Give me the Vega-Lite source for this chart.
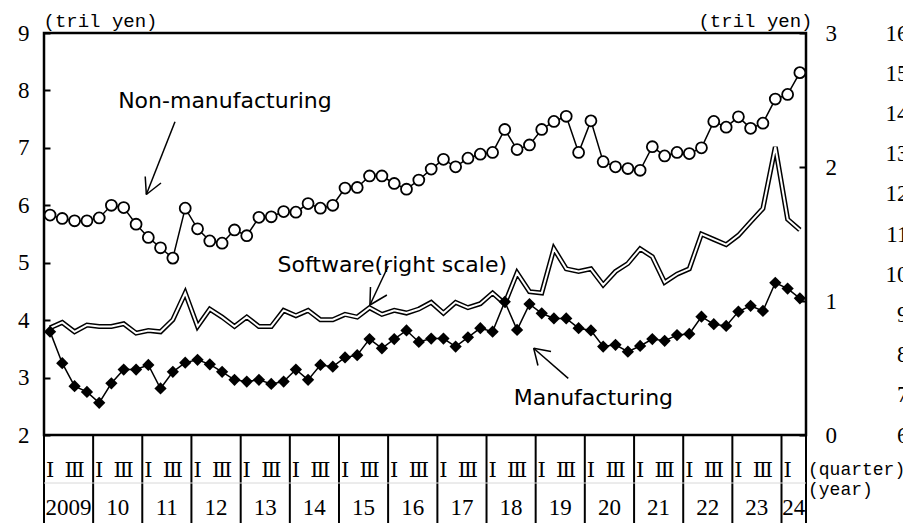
{
  "$schema": "https://vega.github.io/schema/vega-lite/v6.json",
  "width": 762,
  "height": 402,
  "autosize": {"type": "none"},
  "padding": {"left": 44, "top": 33, "right": 97, "bottom": 88},
  "background": "white",
  "config": {
    "view": {"stroke": "black", "strokeWidth": 2.5},
    "font": "DejaVu Sans",
    "axis": {"labelColor": "black", "titleColor": "black", "tickColor": "black", "grid": false}
  },
  "datasets": {
    "q": [
      {"date": "2009-01-01", "nonmfg": 5.83, "mfg": 3.80, "sw": 0.80},
      {"date": "2009-04-01", "nonmfg": 5.77, "mfg": 3.25, "sw": 0.84},
      {"date": "2009-07-01", "nonmfg": 5.73, "mfg": 2.85, "sw": 0.77},
      {"date": "2009-10-01", "nonmfg": 5.73, "mfg": 2.75, "sw": 0.82},
      {"date": "2010-01-01", "nonmfg": 5.78, "mfg": 2.56, "sw": 0.81},
      {"date": "2010-04-01", "nonmfg": 6.00, "mfg": 2.90, "sw": 0.81},
      {"date": "2010-07-01", "nonmfg": 5.96, "mfg": 3.14, "sw": 0.83},
      {"date": "2010-10-01", "nonmfg": 5.67, "mfg": 3.14, "sw": 0.76},
      {"date": "2011-01-01", "nonmfg": 5.44, "mfg": 3.22, "sw": 0.78},
      {"date": "2011-04-01", "nonmfg": 5.26, "mfg": 2.81, "sw": 0.77},
      {"date": "2011-07-01", "nonmfg": 5.08, "mfg": 3.10, "sw": 0.86},
      {"date": "2011-10-01", "nonmfg": 5.95, "mfg": 3.26, "sw": 1.06},
      {"date": "2012-01-01", "nonmfg": 5.59, "mfg": 3.31, "sw": 0.81},
      {"date": "2012-04-01", "nonmfg": 5.38, "mfg": 3.23, "sw": 0.94},
      {"date": "2012-07-01", "nonmfg": 5.34, "mfg": 3.10, "sw": 0.88},
      {"date": "2012-10-01", "nonmfg": 5.57, "mfg": 2.96, "sw": 0.81},
      {"date": "2013-01-01", "nonmfg": 5.47, "mfg": 2.93, "sw": 0.88},
      {"date": "2013-04-01", "nonmfg": 5.79, "mfg": 2.96, "sw": 0.81},
      {"date": "2013-07-01", "nonmfg": 5.80, "mfg": 2.89, "sw": 0.81},
      {"date": "2013-10-01", "nonmfg": 5.89, "mfg": 2.93, "sw": 0.93},
      {"date": "2014-01-01", "nonmfg": 5.88, "mfg": 3.14, "sw": 0.89},
      {"date": "2014-04-01", "nonmfg": 6.03, "mfg": 2.96, "sw": 0.93},
      {"date": "2014-07-01", "nonmfg": 5.95, "mfg": 3.22, "sw": 0.86},
      {"date": "2014-10-01", "nonmfg": 6.00, "mfg": 3.19, "sw": 0.86},
      {"date": "2015-01-01", "nonmfg": 6.30, "mfg": 3.35, "sw": 0.90},
      {"date": "2015-04-01", "nonmfg": 6.31, "mfg": 3.39, "sw": 0.88},
      {"date": "2015-07-01", "nonmfg": 6.51, "mfg": 3.67, "sw": 0.95},
      {"date": "2015-10-01", "nonmfg": 6.51, "mfg": 3.51, "sw": 0.90},
      {"date": "2016-01-01", "nonmfg": 6.38, "mfg": 3.67, "sw": 0.93},
      {"date": "2016-04-01", "nonmfg": 6.28, "mfg": 3.82, "sw": 0.91},
      {"date": "2016-07-01", "nonmfg": 6.44, "mfg": 3.62, "sw": 0.94},
      {"date": "2016-10-01", "nonmfg": 6.63, "mfg": 3.68, "sw": 0.99},
      {"date": "2017-01-01", "nonmfg": 6.80, "mfg": 3.68, "sw": 0.91},
      {"date": "2017-04-01", "nonmfg": 6.67, "mfg": 3.54, "sw": 0.99},
      {"date": "2017-07-01", "nonmfg": 6.82, "mfg": 3.70, "sw": 0.95},
      {"date": "2017-10-01", "nonmfg": 6.89, "mfg": 3.86, "sw": 0.98},
      {"date": "2018-01-01", "nonmfg": 6.92, "mfg": 3.80, "sw": 1.06},
      {"date": "2018-04-01", "nonmfg": 7.32, "mfg": 4.32, "sw": 0.98},
      {"date": "2018-07-01", "nonmfg": 6.97, "mfg": 3.83, "sw": 1.21},
      {"date": "2018-10-01", "nonmfg": 7.05, "mfg": 4.28, "sw": 1.07},
      {"date": "2019-01-01", "nonmfg": 7.32, "mfg": 4.12, "sw": 1.06},
      {"date": "2019-04-01", "nonmfg": 7.46, "mfg": 4.03, "sw": 1.39},
      {"date": "2019-07-01", "nonmfg": 7.55, "mfg": 4.03, "sw": 1.24},
      {"date": "2019-10-01", "nonmfg": 6.92, "mfg": 3.86, "sw": 1.22},
      {"date": "2020-01-01", "nonmfg": 7.47, "mfg": 3.82, "sw": 1.24},
      {"date": "2020-04-01", "nonmfg": 6.76, "mfg": 3.54, "sw": 1.12},
      {"date": "2020-07-01", "nonmfg": 6.67, "mfg": 3.57, "sw": 1.22},
      {"date": "2020-10-01", "nonmfg": 6.64, "mfg": 3.45, "sw": 1.28},
      {"date": "2021-01-01", "nonmfg": 6.61, "mfg": 3.55, "sw": 1.39},
      {"date": "2021-04-01", "nonmfg": 7.02, "mfg": 3.67, "sw": 1.33},
      {"date": "2021-07-01", "nonmfg": 6.86, "mfg": 3.64, "sw": 1.14},
      {"date": "2021-10-01", "nonmfg": 6.92, "mfg": 3.74, "sw": 1.20},
      {"date": "2022-01-01", "nonmfg": 6.90, "mfg": 3.76, "sw": 1.24},
      {"date": "2022-04-01", "nonmfg": 7.00, "mfg": 4.06, "sw": 1.50},
      {"date": "2022-07-01", "nonmfg": 7.46, "mfg": 3.93, "sw": 1.46},
      {"date": "2022-10-01", "nonmfg": 7.36, "mfg": 3.90, "sw": 1.42},
      {"date": "2023-01-01", "nonmfg": 7.54, "mfg": 4.15, "sw": 1.49},
      {"date": "2023-04-01", "nonmfg": 7.34, "mfg": 4.25, "sw": 1.59},
      {"date": "2023-07-01", "nonmfg": 7.43, "mfg": 4.16, "sw": 1.69},
      {"date": "2023-10-01", "nonmfg": 7.85, "mfg": 4.65, "sw": 2.15},
      {"date": "2024-01-01", "nonmfg": 7.93, "mfg": 4.55, "sw": 1.61},
      {"date": "2024-04-01", "nonmfg": 8.31, "mfg": 4.38, "sw": 1.53}
    ],
    "years": [
      {"date": "2009-01-01"}, {"date": "2010-01-01"}, {"date": "2011-01-01"}, {"date": "2012-01-01"},
      {"date": "2013-01-01"}, {"date": "2014-01-01"}, {"date": "2015-01-01"}, {"date": "2016-01-01"},
      {"date": "2017-01-01"}, {"date": "2018-01-01"}, {"date": "2019-01-01"}, {"date": "2020-01-01"},
      {"date": "2021-01-01"}, {"date": "2022-01-01"}, {"date": "2023-01-01"}, {"date": "2024-01-01"},
      {"date": "2024-07-01"}
    ],
    "quarters": [
      {"date": "2009-01-01", "q": "Ⅰ"}, {"date": "2009-07-01", "q": "Ⅲ"},
      {"date": "2010-01-01", "q": "Ⅰ"}, {"date": "2010-07-01", "q": "Ⅲ"},
      {"date": "2011-01-01", "q": "Ⅰ"}, {"date": "2011-07-01", "q": "Ⅲ"},
      {"date": "2012-01-01", "q": "Ⅰ"}, {"date": "2012-07-01", "q": "Ⅲ"},
      {"date": "2013-01-01", "q": "Ⅰ"}, {"date": "2013-07-01", "q": "Ⅲ"},
      {"date": "2014-01-01", "q": "Ⅰ"}, {"date": "2014-07-01", "q": "Ⅲ"},
      {"date": "2015-01-01", "q": "Ⅰ"}, {"date": "2015-07-01", "q": "Ⅲ"},
      {"date": "2016-01-01", "q": "Ⅰ"}, {"date": "2016-07-01", "q": "Ⅲ"},
      {"date": "2017-01-01", "q": "Ⅰ"}, {"date": "2017-07-01", "q": "Ⅲ"},
      {"date": "2018-01-01", "q": "Ⅰ"}, {"date": "2018-07-01", "q": "Ⅲ"},
      {"date": "2019-01-01", "q": "Ⅰ"}, {"date": "2019-07-01", "q": "Ⅲ"},
      {"date": "2020-01-01", "q": "Ⅰ"}, {"date": "2020-07-01", "q": "Ⅲ"},
      {"date": "2021-01-01", "q": "Ⅰ"}, {"date": "2021-07-01", "q": "Ⅲ"},
      {"date": "2022-01-01", "q": "Ⅰ"}, {"date": "2022-07-01", "q": "Ⅲ"},
      {"date": "2023-01-01", "q": "Ⅰ"}, {"date": "2023-07-01", "q": "Ⅲ"},
      {"date": "2024-01-01", "q": "Ⅰ"}
    ],
    "yearLabels": [
      {"date": "2009-07-02", "label": "2009"}, {"date": "2010-07-02", "label": "10"},
      {"date": "2011-07-02", "label": "11"}, {"date": "2012-07-02", "label": "12"},
      {"date": "2013-07-02", "label": "13"}, {"date": "2014-07-02", "label": "14"},
      {"date": "2015-07-02", "label": "15"}, {"date": "2016-07-02", "label": "16"},
      {"date": "2017-07-02", "label": "17"}, {"date": "2018-07-02", "label": "18"},
      {"date": "2019-07-02", "label": "19"}, {"date": "2020-07-02", "label": "20"},
      {"date": "2021-07-02", "label": "21"}, {"date": "2022-07-02", "label": "22"},
      {"date": "2023-07-02", "label": "23"}, {"date": "2024-04-01", "label": "24"}
    ]
  },
  "layer": [
    {
      "data": {"name": "q"},
      "encoding": {
        "x": {"field": "date", "timeUnit": "utcyearquarter", "type": "temporal", "bandPosition": 0.5,
              "scale": {"type": "utc", "domain": [{"year": 2009, "month": 1, "date": 1, "utc": true}, {"year": 2024, "month": 7, "date": 1, "utc": true}]},
              "axis": null},
        "y": {"field": "sw", "type": "quantitative",
              "scale": {"domain": [0, 3], "nice": false, "zero": false},
              "axis": {"orient": "right", "values": [0, 1, 2, 3], "domain": false, "grid": false,
                       "tickSize": -7, "tickWidth": 2, "labelPadding": 26,
                       "labelFont": "Liberation Serif", "labelFontSize": 23, "labelBaseline": "middle",
                       "title": "(tril yen)", "titleAngle": 0, "titleX": 6, "titleY": -7,
                       "titleAlign": "right", "titleBaseline": "alphabetic",
                       "titleFont": "Liberation Mono", "titleFontSize": 19, "titleFontWeight": "normal"}}
      },
      "layer": [
        {"mark": {"type": "line", "color": "black", "strokeWidth": 5, "strokeJoin": "miter"}},
        {"mark": {"type": "line", "color": "white", "strokeWidth": 2, "strokeJoin": "miter"}}
      ]
    },
    {
      "layer": [
        {
          "data": {"name": "years"},
          "mark": {"type": "rule", "color": "black", "strokeWidth": 2},
          "encoding": {
            "x": {"field": "date", "type": "temporal", "axis": null},
            "y": {"datum": 2, "type": "quantitative", "scale": {"domain": [2, 9], "nice": false, "zero": false}, "axis": null},
            "y2": {"datum": 0.3}
          }
        },
        {
          "data": {"values": [{"k": 1}]},
          "mark": {"type": "rule", "color": "#d8d8d8", "strokeWidth": 1},
          "encoding": {"y": {"datum": 1.164, "type": "quantitative", "axis": null}}
        },
        {
          "data": {"name": "q"},
          "encoding": {
            "x": {"field": "date", "timeUnit": "utcyearquarter", "type": "temporal", "bandPosition": 0.5, "axis": null},
            "y": {"field": "nonmfg", "type": "quantitative", "axis": null}
          },
          "layer": [
            {"mark": {"type": "line", "color": "black", "strokeWidth": 1.5}},
            {"mark": {"type": "point", "shape": "circle", "filled": true, "fill": "white", "stroke": "black", "strokeWidth": 1.8, "size": 120, "opacity": 1}}
          ]
        },
        {
          "data": {"name": "q"},
          "encoding": {
            "x": {"field": "date", "timeUnit": "utcyearquarter", "type": "temporal", "bandPosition": 0.5, "axis": null},
            "y": {"field": "mfg", "type": "quantitative", "axis": null}
          },
          "layer": [
            {"mark": {"type": "line", "color": "black", "strokeWidth": 1.5}},
            {"mark": {"type": "point", "shape": "diamond", "filled": true, "color": "black", "size": 150, "opacity": 1}}
          ]
        },
        {
          "data": {"name": "quarters"},
          "mark": {"type": "text", "font": "DejaVu Serif", "fontSize": 21, "color": "black", "baseline": "middle", "align": "center"},
          "encoding": {
            "x": {"field": "date", "timeUnit": "utcyearquarter", "type": "temporal", "bandPosition": 0.5, "axis": null},
            "y": {"datum": 1.37, "type": "quantitative", "axis": null},
            "text": {"field": "q"}
          }
        },
        {
          "data": {"name": "yearLabels"},
          "mark": {"type": "text", "font": "Liberation Serif", "fontSize": 23, "color": "black", "baseline": "middle", "align": "center"},
          "encoding": {
            "x": {"field": "date", "type": "temporal", "axis": null},
            "y": {"datum": 0.73, "type": "quantitative", "axis": null},
            "text": {"field": "label"}
          }
        },
        {
          "data": {"values": [
            {"date": "2024-07-01", "y": 1.391, "label": "(quarter)"},
            {"date": "2024-07-01", "y": 1.042, "label": "(year)"}
          ]},
          "mark": {"type": "text", "font": "Liberation Mono", "fontSize": 18, "color": "black", "baseline": "middle", "align": "left", "dx": 2},
          "encoding": {
            "x": {"field": "date", "type": "temporal", "axis": null},
            "y": {"field": "y", "type": "quantitative", "axis": null},
            "text": {"field": "label"}
          }
        },
        {
          "data": {"values": [
            {"date": "2012-09-06", "y": 7.694, "label": "Non-manufacturing"},
            {"date": "2016-02-01", "y": 4.844, "label": "Software(right scale)"},
            {"date": "2020-03-05", "y": 2.523, "label": "Manufacturing"}
          ]},
          "mark": {"type": "text", "font": "DejaVu Sans", "fontSize": 22, "color": "black", "baseline": "alphabetic", "align": "center"},
          "encoding": {
            "x": {"field": "date", "type": "temporal", "axis": null},
            "y": {"field": "y", "type": "quantitative", "axis": null},
            "text": {"field": "label"}
          }
        },
        {
          "data": {
            "values": [
              {"x1": "2011-09-01", "y1": 7.455, "x2": "2011-01-31", "y2": 6.188},
              {"x1": "2011-01-31", "y1": 6.188, "x2": "2011-01-23", "y2": 6.501},
              {"x1": "2011-01-31", "y1": 6.188, "x2": "2011-05-20", "y2": 6.388},
              {"x1": "2016-01-02", "y1": 4.943, "x2": "2015-08-19", "y2": 4.264},
              {"x1": "2015-08-19", "y1": 4.264, "x2": "2015-08-23", "y2": 4.577},
              {"x1": "2015-08-19", "y1": 4.264, "x2": "2015-12-23", "y2": 4.438},
              {"x1": "2019-08-31", "y1": 2.987, "x2": "2018-12-17", "y2": 3.510},
              {"x1": "2018-12-17", "y1": 3.510, "x2": "2019-01-18", "y2": 3.210},
              {"x1": "2018-12-17", "y1": 3.510, "x2": "2019-04-25", "y2": 3.454}
            ],
            "format": {"parse": {"x1": "date", "x2": "date"}}
          },
          "mark": {"type": "rule", "color": "black", "strokeWidth": 1.5},
          "encoding": {
            "x": {"field": "x1", "type": "temporal", "axis": null},
            "x2": {"field": "x2"},
            "y": {"field": "y1", "type": "quantitative", "axis": null},
            "y2": {"field": "y2"}
          }
        }
      ]
    },
    {
      "data": {"values": [{"v": 6}, {"v": 16}]},
      "mark": {"type": "point", "opacity": 0},
      "encoding": {
        "y": {"field": "v", "type": "quantitative",
              "scale": {"domain": [6, 16], "nice": false, "zero": false},
              "axis": {"orient": "right", "values": [6, 7, 8, 9, 10, 11, 12, 13, 14, 15, 16],
                       "domain": false, "ticks": false, "grid": false, "labelPadding": 102, "labelAlign": "right",
                       "labelFont": "Liberation Serif", "labelFontSize": 23, "labelBaseline": "middle", "title": null}}
      }
    },
    {
      "data": {"values": [{"v": 2}, {"v": 9}]},
      "mark": {"type": "point", "opacity": 0},
      "encoding": {
        "y": {"field": "v", "type": "quantitative",
              "scale": {"domain": [2, 9], "nice": false, "zero": false},
              "axis": {"orient": "left", "values": [2, 3, 4, 5, 6, 7, 8, 9], "domain": false, "grid": false,
                       "tickSize": -6, "tickWidth": 2, "labelPadding": 21,
                       "labelFont": "Liberation Serif", "labelFontSize": 23, "labelBaseline": "middle",
                       "title": "(tril yen)", "titleAngle": 0, "titleX": -1, "titleY": -7,
                       "titleAlign": "left", "titleBaseline": "alphabetic",
                       "titleFont": "Liberation Mono", "titleFontSize": 19, "titleFontWeight": "normal"}}
      }
    }
  ],
  "resolve": {"scale": {"y": "independent"}}
}
